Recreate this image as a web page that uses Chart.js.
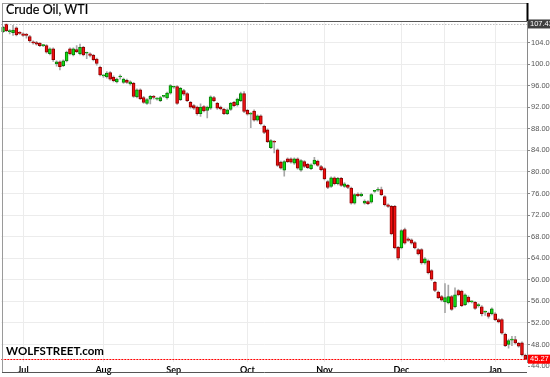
<!DOCTYPE html>
<html><head><meta charset="utf-8">
<script src="https://cdn.jsdelivr.net/npm/chart.js@4.4.1/dist/chart.umd.min.js"></script>
<style>
html,body{margin:0;padding:0;background:#fff;}
#wrap{position:relative;width:550px;height:377px;overflow:hidden;}
#c{position:absolute;left:0;top:0;}
#title{position:absolute;left:6px;top:3px;font:12.5px Lato,sans-serif;line-height:14px;color:#000;white-space:nowrap;-webkit-text-stroke:0.2px #000;}
#wm{position:absolute;left:6px;top:344px;font:bold 11.5px Lato,sans-serif;line-height:14px;color:#000;white-space:nowrap;}
</style></head>
<body><div id="wrap"><canvas id="c" width="550" height="377"></canvas>
<div id="title">Crude Oil, WTI</div><div id="wm">WOLFSTREET.com</div></div>
<script>
const opens  = [106.0,107.4,106.0,105.8,106.7,105.8,105.6,105.4,105.1,104.1,104.0,103.9,103.4,103.4,101.9,102.8,100.0,100.4,99.7,100.6,102.8,101.7,102.7,101.9,103.1,102.0,101.9,101.6,100.9,99.4,97.8,97.6,98.4,97.6,96.7,97.6,96.6,97.0,96.3,96.4,93.9,95.2,93.8,92.7,93.5,94.0,93.5,93.2,94.0,93.7,94.6,95.7,95.8,93.4,95.1,94.5,92.9,92.3,92.0,90.8,92.1,91.4,91.8,93.8,92.7,92.0,91.6,90.8,91.6,92.9,92.4,93.2,94.5,91.4,90.7,91.3,89.6,90.4,88.5,87.8,84.5,85.6,84.1,81.8,80.3,82.4,82.4,81.6,82.4,80.3,81.9,81.4,80.6,81.5,82.0,81.0,80.6,78.2,77.3,78.9,77.8,78.8,77.3,77.5,77.0,74.2,75.9,75.6,74.2,74.5,74.4,76.4,76.6,76.7,75.4,73.9,73.6,73.6,66.0,65.9,69.3,67.6,67.4,66.9,65.6,65.6,63.1,63.5,61.7,59.5,57.7,56.9,55.9,55.7,56.9,55.0,58.0,57.9,55.4,56.8,55.9,55.8,55.2,55.0,54.0,53.8,53.7,53.7,52.6,52.6,49.9,48.0,48.8,48.9,48.2,48.3,46.0];
const highs  = [107.0,107.43,106.4,107.2,106.9,106.0,105.8,105.7,105.3,104.3,104.2,104.0,103.6,103.6,103.0,103.0,100.6,100.6,100.8,102.4,103.0,103.0,103.4,103.7,103.3,102.2,102.1,101.8,101.1,99.6,98.0,98.6,98.6,97.8,97.4,98.0,97.4,97.2,96.9,96.6,95.4,95.4,94.0,93.6,94.2,94.2,93.8,94.0,94.2,94.8,96.2,95.9,96.0,95.7,95.3,94.7,93.1,92.5,92.2,92.6,92.3,92.2,94.1,94.0,92.9,92.2,91.8,91.7,92.9,93.1,93.7,94.8,94.9,91.6,91.0,91.5,90.6,90.6,88.7,88.0,86.0,85.8,84.3,82.0,82.1,82.6,82.6,82.6,82.6,82.3,82.1,81.6,81.5,82.7,82.2,81.2,80.8,78.4,79.1,79.1,79.0,79.0,78.0,77.7,77.2,76.0,76.1,76.1,74.8,74.7,76.0,76.6,77.1,77.2,75.6,74.1,73.8,73.8,66.2,69.3,69.6,67.8,67.6,67.1,65.8,65.8,64.1,63.7,61.9,59.7,57.9,57.1,59.3,59.0,57.1,58.5,58.2,58.1,57.4,57.0,56.1,56.0,55.6,55.2,54.2,54.0,54.8,53.9,52.8,52.8,50.1,49.0,49.5,49.5,48.4,48.5,46.2];
const lows   = [105.8,106.0,105.6,105.3,105.2,105.5,105.1,104.8,104.0,103.7,103.5,103.2,103.2,102.0,101.7,100.5,99.6,98.9,99.5,100.4,101.7,101.5,102.1,101.7,101.5,101.0,101.3,100.6,99.8,97.8,97.5,97.4,97.0,96.7,96.5,97.2,96.4,96.4,96.1,93.8,93.7,93.4,92.7,92.5,92.6,93.5,93.3,93.0,93.8,93.5,94.4,95.5,92.5,93.2,94.2,93.0,91.8,91.6,90.5,90.3,91.1,90.0,91.6,93.0,91.6,91.5,90.6,90.6,91.4,92.1,92.2,93.0,91.0,90.5,88.2,89.4,89.4,88.7,87.1,85.4,84.3,83.5,81.0,80.5,79.2,81.7,81.6,81.4,80.5,80.1,80.8,80.6,80.4,81.3,81.0,80.2,78.5,76.9,77.1,77.6,77.6,77.3,77.1,76.9,74.0,74.0,75.4,75.4,74.0,73.9,74.2,76.2,76.4,75.6,73.7,73.4,68.3,65.7,63.7,65.7,66.6,67.1,66.6,65.7,64.6,62.9,62.9,61.1,59.9,57.8,56.5,56.0,53.9,55.5,54.3,54.8,57.0,55.0,55.2,55.7,55.7,54.5,54.9,53.3,53.4,52.9,53.5,52.4,52.0,49.9,47.6,47.3,47.8,48.1,47.5,45.9,45.2];
const closes = [106.8,106.2,106.05,106.3,105.4,105.7,105.3,105.3,104.3,103.9,103.7,103.4,103.5,102.2,102.8,100.8,100.4,99.5,100.6,102.2,101.9,102.8,102.3,103.1,101.7,102.0,101.6,100.8,100.1,98.0,97.8,98.3,97.2,96.9,97.2,97.6,97.2,96.6,96.7,94.0,95.2,93.6,92.9,93.4,94.0,93.8,93.5,93.8,94.0,94.6,96.0,95.7,92.7,95.5,94.4,93.2,92.0,91.8,90.8,92.0,91.3,92.0,93.9,93.2,91.8,91.7,90.8,91.5,92.7,92.3,93.5,94.5,91.2,90.7,90.8,89.6,90.4,88.9,87.3,85.6,85.8,85.5,81.2,80.7,81.9,81.9,81.8,82.4,80.7,82.1,81.0,80.8,81.3,82.2,81.2,80.4,78.7,77.1,78.9,77.8,78.8,77.5,77.8,77.1,74.2,75.8,75.6,75.9,74.6,74.1,75.8,76.4,76.6,75.8,73.9,73.6,68.5,65.9,64.0,69.1,66.8,67.3,66.8,65.9,64.8,63.1,63.9,61.3,60.1,58.0,56.7,56.2,56.7,56.9,54.5,57.2,57.2,55.2,57.2,55.9,55.9,54.7,55.2,53.7,54.0,53.2,54.6,52.6,52.2,50.1,47.8,48.7,48.8,48.3,47.7,46.1,45.27];

const monthNames = ['Jul','Aug','Sep','Oct','Nov','Dec','','Jan'];
const monthIdx   = [6, 30, 51, 73, 96, 119, 132, 147];
const yTicks = [44,48,52,56,60,64,68,72,76,80,84,88,92,96,100,104];
const yMin = 44.75, yMax = 107.98;

const labels = opens.map((_, i) => { const k = monthIdx.indexOf(i); return k >= 0 ? monthNames[k] : ''; });
const isUp = closes.map((c, i) => c >= opens[i]);

const extras = {
  id: 'extras',
  beforeDraw(chart) {
    const ctx = chart.ctx;
    ctx.save();
    ctx.fillStyle = '#fff';
    ctx.fillRect(0, 0, chart.width, chart.height);
    ctx.restore();
  },
  afterDatasetsDraw(chart) {
    const {ctx, chartArea: a, scales: {y}} = chart;
    const hi = Math.max(...highs), last = closes[closes.length - 1];
    const yh = Math.round(y.getPixelForValue(hi)) + 0.5;
    const yl = Math.round(y.getPixelForValue(last)) + 0.5;
    ctx.save();
    ctx.lineWidth = 1;
    ctx.setLineDash([1, 2]);
    ctx.strokeStyle = '#a0a0a0';
    ctx.beginPath(); ctx.moveTo(a.left, yh); ctx.lineTo(a.right, yh); ctx.stroke();
    ctx.strokeStyle = '#ff0000';
    ctx.setLineDash([2, 1]);
    ctx.beginPath(); ctx.moveTo(a.left, yl); ctx.lineTo(a.right, yl); ctx.stroke();
    ctx.restore();
  },
  afterDraw(chart) {
    const {ctx, scales: {y}} = chart;
    const hi = Math.max(...highs), last = closes[closes.length - 1];
    const yh = y.getPixelForValue(hi), yl = y.getPixelForValue(last);
    ctx.save();
    ctx.lineWidth = 1;
    ctx.strokeStyle = '#9a9a9a';
    ctx.beginPath();
    ctx.moveTo(2.5, 3); ctx.lineTo(2.5, 372);
    ctx.moveTo(2, 3.5); ctx.lineTo(527, 3.5);
    ctx.stroke();
    ctx.strokeStyle = '#555';
    ctx.beginPath();
    ctx.moveTo(2, 21.5); ctx.lineTo(527, 21.5);
    ctx.moveTo(2, 372.5); ctx.lineTo(527, 372.5);
    ctx.stroke();
    ctx.strokeStyle = '#000';
    ctx.lineWidth = 2;
    ctx.beginPath(); ctx.moveTo(527.5, 3); ctx.lineTo(527.5, 21); ctx.stroke();
    ctx.font = '7.5px Arial, "Liberation Sans", sans-serif';
    ctx.textBaseline = 'middle';
    ctx.textAlign = 'left';
    ctx.fillStyle = '#404040';
    ctx.fillRect(528, yh - 4.5, 22, 9);
    ctx.fillStyle = '#fff';
    ctx.fillText(hi.toFixed(2), 530, yh);
    ctx.fillStyle = '#ff0000';
    ctx.fillRect(528, yl - 4.5, 22, 9);
    ctx.fillStyle = '#fff';
    ctx.fillText(last.toFixed(2), 530, yl);
    ctx.restore();
  }
};

new Chart(document.getElementById('c'), {
  type: 'bar',
  data: {
    labels: labels,
    datasets: [
      {
        label: 'Body',
        data: opens.map((o, i) => [o, closes[i]]),
        backgroundColor: isUp.map(u => u ? '#10e010' : '#f01010'),
        borderColor: isUp.map(u => u ? '#0a7a0a' : '#900000'),
        borderWidth: 1,
        borderSkipped: false,
        barThickness: 3,
        minBarLength: 1,
        grouped: false,
        order: 1
      },
      {
        label: 'Wick',
        data: lows.map((l, i) => [l, highs[i]]),
        backgroundColor: '#a8a8a8',
        borderWidth: 0,
        barThickness: 1,
        grouped: false,
        order: 2
      }
    ]
  },
  options: {
    responsive: false,
    animation: false,
    devicePixelRatio: 1,
    layout: { padding: { left: 1, top: 21, right: 0, bottom: 0 } },
    plugins: { legend: { display: false }, tooltip: { enabled: false }, title: { display: false } },
    scales: {
      x: {
        type: 'category',
        offset: true,
        border: { display: false },
        grid: {
          offset: false,
          drawTicks: false,
          color: ctx => (monthIdx.includes(ctx.index) ? '#ececec' : 'rgba(0,0,0,0)')
        },
        ticks: {
          autoSkip: false, maxRotation: 0, minRotation: 0, padding: 3,
          color: '#000',
          font: { family: 'Lato, sans-serif', size: 9, weight: 'bold' },
          callback: (v, i) => labels[i]
        },
        afterFit: s => { s.height = 15; }
      },
      y: {
        position: 'right',
        min: yMin, max: yMax,
        afterBuildTicks: s => { s.ticks = yTicks.map(v => ({ value: v })); },
        border: { display: true, color: '#8a8a8a', width: 1 },
        grid: {
          color: ctx => (ctx.tick && ctx.tick.value < yMin ? 'rgba(0,0,0,0)' : '#ececec'),
          tickColor: '#888', tickLength: 3
        },
        ticks: {
          autoSkip: false, padding: 1, color: '#555',
          font: { family: 'Arial, "Liberation Sans", sans-serif', size: 7.5 },
          callback: v => Number(v).toFixed(2)
        },
        afterFit: s => { s.width = 23; }
      }
    }
  },
  plugins: [extras]
});
</script>
</body></html>
